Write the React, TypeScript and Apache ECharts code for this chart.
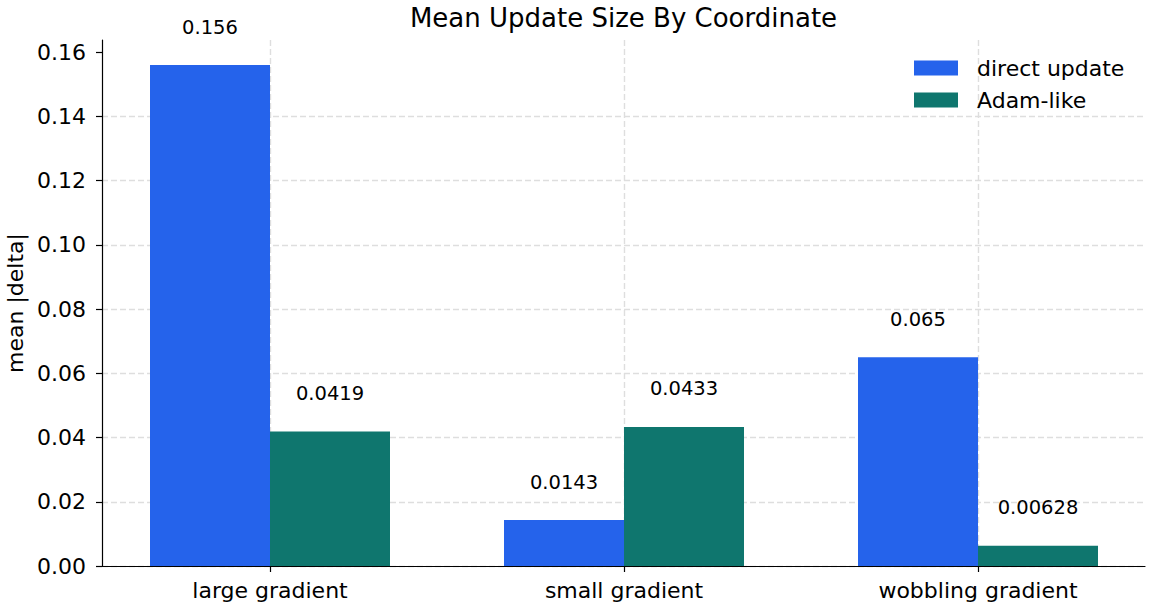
import React, { useEffect, useRef } from "react";
import * as echarts from "echarts";

const categories = ["large gradient", "small gradient", "wobbling gradient"];
const directUpdate = [0.156, 0.0143, 0.065];
const adamLike = [0.0419, 0.0433, 0.00628];
const yTicks = [0, 0.02, 0.04, 0.06, 0.08, 0.1, 0.12, 0.14, 0.16];
const yMax = 0.1638;

const FONT = "DejaVu Sans";
const gridLine = { color: "#dedede", width: 1.4, type: [6, 3] as any };

export default function App() {
  const ref = useRef<HTMLDivElement>(null);
  useEffect(() => {
    if (!ref.current) return;
    const chart = echarts.init(ref.current, undefined, { renderer: "svg" });
    const labelStyle = {
      show: true,
      position: "top" as const,
      distance: 28,
      fontFamily: FONT,
      fontSize: 19.5,
      lineHeight: 20,
      color: "#000",
    };
    chart.setOption({
      animation: false,
      backgroundColor: "#fff",
      textStyle: { fontFamily: FONT },
      title: {
        text: "Mean Update Size By Coordinate",
        left: 623.5,
        textAlign: "center",
        top: 0,
        padding: [4, 0, 0, 0],
        textStyle: { fontFamily: FONT, fontSize: 26, fontWeight: "normal", color: "#000", lineHeight: 28 },
      },
      legend: {
        orient: "vertical",
        left: 914,
        top: 57,
        padding: 0,
        itemWidth: 44,
        itemHeight: 15,
        itemGap: 10,
        icon: "rect",
        data: ["direct update", "Adam-like"],
        textStyle: { fontFamily: FONT, fontSize: 22, color: "#000", lineHeight: 22, padding: [0, 0, 0, 14] },
      },
      graphic: [
        {
          type: "text",
          x: 15,
          y: 303,
          rotation: Math.PI / 2,
          style: {
            text: "mean |delta|",
            fontFamily: FONT,
            fontSize: 22,
            fill: "#000",
            textAlign: "center",
            textVerticalAlign: "middle",
          },
        },
      ],
      grid: [
        { left: 102, right: 7, top: 40, bottom: 42 },
        { left: 270, right: 174, top: 40, bottom: 42 },
      ],
      xAxis: [
        {
          type: "value",
          gridIndex: 0,
          min: 0,
          max: 1,
          axisLine: { show: true, lineStyle: { color: "#000", width: 1.2 } },
          axisTick: { show: false },
          axisLabel: { show: false },
          splitLine: { show: false },
        },
        {
          type: "category",
          gridIndex: 1,
          data: categories,
          boundaryGap: false,
          axisLine: { show: false },
          axisTick: { show: true, length: 6, lineStyle: { color: "#000", width: 1.2 } },
          axisLabel: { fontFamily: FONT, fontSize: 22, color: "#000", margin: 13 },
          splitLine: { show: true, lineStyle: gridLine },
        },
      ],
      yAxis: [
        {
          type: "value",
          gridIndex: 0,
          min: 0,
          max: yMax,
          interval: 0.02,
          axisLine: { show: true, lineStyle: { color: "#000", width: 1.2 } },
          axisTick: { show: true, length: 6, customValues: yTicks, lineStyle: { color: "#000", width: 1.2 } },
          axisLabel: {
            customValues: yTicks,
            fontFamily: FONT,
            fontSize: 22,
            color: "#000",
            margin: 16,
            formatter: (v: number) => v.toFixed(2),
          },
          splitLine: { show: true, showMaxLine: false, lineStyle: gridLine },
        },
        {
          type: "value",
          gridIndex: 1,
          min: 0,
          max: yMax,
          show: false,
          splitLine: { show: false },
        },
      ],
      series: [
        {
          name: "direct update",
          type: "bar",
          xAxisIndex: 1,
          yAxisIndex: 1,
          data: directUpdate,
          barWidth: 120,
          barGap: "0%",
          clip: false,
          itemStyle: { color: "#2563EB" },
          label: labelStyle,
        },
        {
          name: "Adam-like",
          type: "bar",
          xAxisIndex: 1,
          yAxisIndex: 1,
          data: adamLike,
          barWidth: 120,
          barGap: "0%",
          clip: false,
          itemStyle: { color: "#0F766E" },
          label: labelStyle,
        },
      ],
    });
    return () => chart.dispose();
  }, []);
  return (
    <div
      ref={ref}
      style={{ position: "absolute", left: 0, top: 0, width: 1152, height: 608 }}
    />
  );
}
